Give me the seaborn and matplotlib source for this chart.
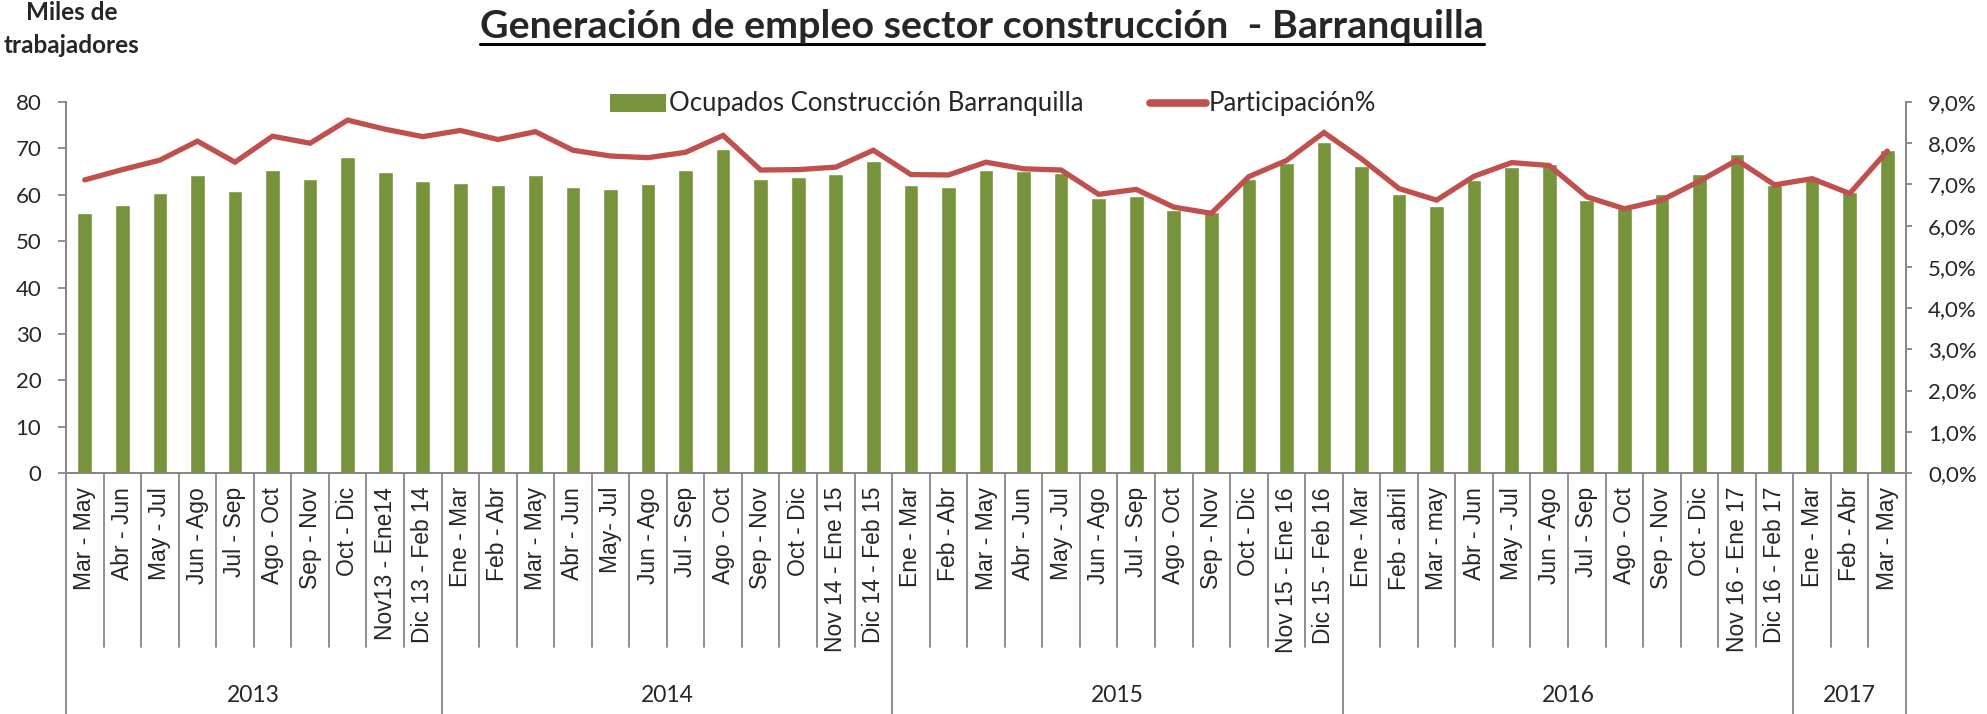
import numpy as np
import pandas as pd
import matplotlib
matplotlib.use("Agg")
import matplotlib.pyplot as plt
from matplotlib.ticker import FuncFormatter, MultipleLocator
from matplotlib.lines import Line2D
from matplotlib.patches import Patch
import matplotlib.transforms as mtrans
import seaborn as sns

# ---------------- data ----------------
years = ["2013", "2014", "2015", "2016", "2017"]
periods_2013 = ["Mar - May", "Abr - Jun", "May - Jul", "Jun - Ago", "Jul - Sep", "Ago - Oct",
                "Sep - Nov", "Oct - Dic", "Nov13 - Ene14", "Dic 13 - Feb 14"]
periods_2014 = ["Ene - Mar", "Feb - Abr", "Mar - May", "Abr - Jun", "May- Jul", "Jun - Ago",
                "Jul - Sep", "Ago - Oct", "Sep - Nov", "Oct - Dic", "Nov 14 - Ene 15", "Dic 14 - Feb 15"]
periods_2015 = ["Ene - Mar", "Feb - Abr", "Mar - May", "Abr - Jun", "May - Jul", "Jun - Ago",
                "Jul - Sep", "Ago - Oct", "Sep - Nov", "Oct - Dic", "Nov 15 - Ene 16", "Dic 15 - Feb 16"]
periods_2016 = ["Ene - Mar", "Feb - abril", "Mar - may", "Abr - Jun", "May - Jul", "Jun - Ago",
                "Jul - Sep", "Ago - Oct", "Sep - Nov", "Oct - Dic", "Nov 16 - Ene 17", "Dic 16 - Feb 17"]
periods_2017 = ["Ene - Mar", "Feb - Abr", "Mar - May"]

ocupados = [56.1, 57.8, 60.4, 64.2, 60.8, 65.3, 63.5, 68.1, 65.0, 63.0,
            62.5, 62.2, 64.2, 61.6, 61.2, 62.4, 65.4, 69.8, 63.5, 63.8, 64.5, 67.3,
            62.1, 61.6, 65.3, 65.1, 64.7, 59.2, 59.7, 56.7, 56.3, 63.5, 66.8, 71.4,
            66.3, 60.1, 57.6, 63.1, 66.0, 66.7, 58.9, 57.1, 60.2, 64.4, 68.8, 62.2,
            63.9, 60.6, 69.6]
participacion = [7.11, 7.36, 7.59, 8.05, 7.54, 8.17, 8.00, 8.56, 8.34, 8.16,
                 8.31, 8.09, 8.28, 7.83, 7.69, 7.65, 7.78, 8.19, 7.35, 7.36, 7.42, 7.83,
                 7.24, 7.23, 7.54, 7.38, 7.35, 6.76, 6.88, 6.45, 6.30, 7.19, 7.58, 8.26,
                 7.62, 6.90, 6.62, 7.20, 7.53, 7.46, 6.70, 6.41, 6.62, 7.08, 7.59, 6.99,
                 7.14, 6.78, 7.81]

groups = [periods_2013, periods_2014, periods_2015, periods_2016, periods_2017]
labels, year_of = [], []
for y, g in zip(years, groups):
    labels += g
    year_of += [y] * len(g)

df = pd.DataFrame({
    "key": [f"{y}|{l}" for y, l in zip(year_of, labels)],
    "label": labels,
    "year": year_of,
    "ocupados": ocupados,
    "pct": np.array(participacion) / 100.0,
})
df["pos"] = np.arange(len(df))

# ---------------- style ----------------
sns.set_theme(style="white")
CAL = ["Lato", "DejaVu Sans"]
ARI = ["Liberation Sans", "DejaVu Sans"]
plt.rcParams["font.family"] = CAL

GREEN = "#77933C"
RED = "#C0504D"
GREY = "#868686"

fig = plt.figure(figsize=(19.87, 7.14), dpi=100)
ax = fig.add_axes([66 / 1987, 1 - 473 / 714, (1906 - 66) / 1987, (473 - 102) / 714])

sns.barplot(data=df, x="key", y="ocupados", color=GREEN, width=0.39,
            saturation=1, ax=ax, order=list(df["key"]))
ax.set_xlim(-0.5, len(df) - 0.5)
ax.set_ylim(0, 80)
ax.yaxis.set_major_locator(MultipleLocator(10))

ax2 = ax.twinx()
sns.lineplot(data=df, x="pos", y="pct", color=RED, linewidth=3.8, ax=ax2,
             solid_joinstyle="miter")
ax2.set_ylim(0, 0.09)
ax2.set_xlim(-0.5, len(df) - 0.5)
ax2.yaxis.set_major_locator(MultipleLocator(0.01))
ax2.yaxis.set_major_formatter(FuncFormatter(lambda v, p: f"{v*100:.1f}%".replace(".", ",")))

for a in (ax, ax2):
    a.set_xlabel("")
    a.set_ylabel("")
    for s in a.spines.values():
        s.set_color(GREY)
        s.set_linewidth(1.3)
    a.spines["top"].set_visible(False)

ax.tick_params(axis="y", left=True, length=5.8, width=1.3, color=GREY, labelsize=16, pad=12)
ax2.tick_params(axis="y", right=True, length=4, width=1.3, color=GREY, labelsize=16, pad=12)
for t in ax.get_yticklabels() + ax2.get_yticklabels():
    t.set_fontfamily(CAL)

ax.set_xticks(df["pos"])
ax.set_xticklabels(df["label"], rotation=90, fontsize=16.5, va="top", ha="center")
for t in ax.get_xticklabels():
    t.set_fontfamily(ARI)
ax.tick_params(axis="x", bottom=False, length=0, pad=10)
ax2.tick_params(axis="x", bottom=False, labelbottom=False)

# category separators and year separators
trans = mtrans.blended_transform_factory(ax.transData, ax.transAxes)
cat_bottom = -(647 - 473) / 371
year_bottom = -(714 - 473) / 371
bounds = [-0.5]
for g in groups:
    bounds.append(bounds[-1] + len(g))
for i in range(len(df) + 1):
    xb = i - 0.5
    yb = year_bottom if xb in bounds else cat_bottom
    ax.add_line(Line2D([xb, xb], [0, yb], transform=trans, color=GREY, lw=1.3, clip_on=False))
for y, g, b0 in zip(years, groups, bounds[:-1]):
    ax.text(b0 + len(g) / 2, -(696 - 473) / 371, y, transform=trans, ha="center", va="center",
            fontsize=16.5, fontfamily=CAL)

# legend
handles = [Patch(facecolor=GREEN, edgecolor="none"),
           Line2D([0], [0], color=RED, lw=5.5, solid_capstyle="round")]
fig.legend(handles, ["Ocupados Construcción Barranquilla", "Participación%"],
           loc="center", bbox_to_anchor=(993 / 1987, 1 - 104 / 714), ncol=2, frameon=False,
           handlelength=2.2, handleheight=0.7, handletextpad=0.1,
           columnspacing=2.6, prop={"family": CAL, "size": 18.5})

# title with underline
title = fig.text(982 / 1987, 1 - 26 / 714, "Generación de empleo sector construcción  - Barranquilla",
                 ha="center", va="center", fontsize=28.4, fontweight="bold", fontfamily=CAL)
fig.text(72 / 1987, 1 - 29 / 714, "Miles de\ntrabajadores", ha="center", va="center",
         fontsize=17.5, fontweight="bold", fontfamily=CAL, linespacing=1.55)

fig.canvas.draw()
bb = title.get_window_extent().transformed(fig.transFigure.inverted())
uy = bb.y0 - 0.001
fig.add_artist(Line2D([bb.x0, bb.x1], [uy, uy], transform=fig.transFigure, color="black", lw=2.2))

fig.savefig("out.png", dpi=100)
